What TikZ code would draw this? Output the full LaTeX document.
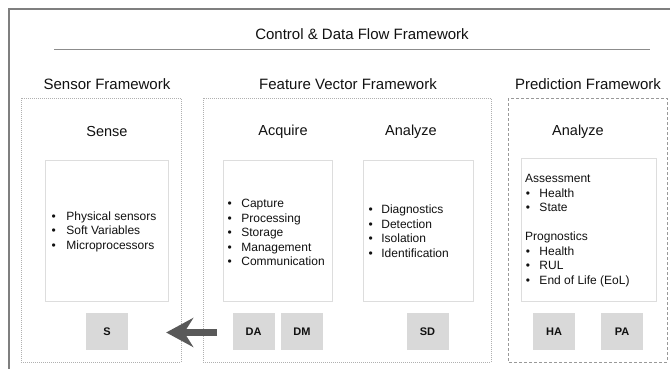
\documentclass[tikz,border=0pt]{standalone}
\usepackage{fontspec}
\setmainfont{Liberation Sans}
\usetikzlibrary{arrows.meta}
\definecolor{framegray}{HTML}{7F7F7F}
\definecolor{dotgray}{HTML}{B0B0B0}
\definecolor{dashgray}{HTML}{999999}
\definecolor{innergray}{HTML}{DDDDDD}
\definecolor{tagfill}{HTML}{D9D9D9}
\definecolor{arrowgray}{HTML}{595959}
\definecolor{txt}{HTML}{111111}
\begin{document}
\begin{tikzpicture}[x=1pt,y=-1pt,
  every node/.style={text=txt},
  fwtitle/.style={font=\fontsize{15}{18}\selectfont},
  sublabel/.style={font=\fontsize{14.5}{17}\selectfont},
  fwbox/.style={draw=dotgray,line width=0.8pt,dash pattern=on 1pt off 1pt},
  predbox/.style={draw=dashgray,line width=0.8pt,dash pattern=on 3pt off 2pt},
  innerbox/.style={draw=innergray,line width=0.8pt},
  tag/.style={fill=tagfill,minimum width=42pt,minimum height=37pt,inner sep=0pt,font=\fontsize{11}{13}\selectfont\bfseries},
  listtext/.style={inner sep=0pt,anchor=west,font=\fontsize{12}{14.5}\selectfont},
  bigarrow/.style={draw=arrowgray,line width=7pt,-{Stealth[length=27pt,width=29pt,inset=9pt,fill=arrowgray]}}
]
\useasboundingbox (0,0) rectangle (670,368);
\fill[white] (0,0) rectangle (670,368);
% outer frame
\draw[framegray,line width=1.3pt] (9,369) -- (9,9) -- (671,9);
% title
\node[fwtitle] (title) at (362,34) {Control \& Data Flow Framework};
\draw[black!45,line width=0.5pt,dash pattern=on 0.5pt off 0.5pt] (54,49) -- (650,49);
% framework titles
\node[fwtitle] (tsensor) at (107,84) {Sensor Framework};
\node[fwtitle] (tfeature) at (348,84) {Feature Vector Framework};
\node[fwtitle] (tpred) at (588,84) {Prediction Framework};
% framework boxes
\draw[fwbox] (21,98) rectangle (181,362);
\draw[fwbox] (203,98) rectangle (491,362);
\draw[predbox] (508,98) rectangle (667,362);
% sub labels
\node[sublabel] (lsense) at (107,132) {Sense};
\node[sublabel] (lacq) at (283,132) {Acquire};
\node[sublabel] (lana) at (411,132) {Analyze};
\node[sublabel] (lanp) at (578,132) {Analyze};
% inner boxes
\draw[innerbox] (45,160) rectangle (168,301);
\draw[innerbox] (223,160) rectangle (332,301);
\draw[innerbox] (363,160) rectangle (473,301);
\draw[innerbox] (521,158) rectangle (656,301);
% lists
\node[listtext] (lst1) at (51.5,232) {\begin{tabular}{@{}l@{\hspace{10.5pt}}l@{}}
\textbullet & Physical sensors\\ \textbullet & Soft Variables\\ \textbullet & Microprocessors\end{tabular}};
\node[listtext] (lst2) at (227.5,234) {\begin{tabular}{@{}l@{\hspace{9.5pt}}l@{}}
\textbullet & Capture\\ \textbullet & Processing\\ \textbullet & Storage\\ \textbullet & Management\\ \textbullet & Communication\end{tabular}};
\node[listtext] (lst3) at (368.5,232.5) {\begin{tabular}{@{}l@{\hspace{8.5pt}}l@{}}
\textbullet & Diagnostics\\ \textbullet & Detection\\ \textbullet & Isolation\\ \textbullet & Identification\end{tabular}};
\node[listtext] (lst4) at (525,230.5) {\begin{tabular}{@{}l@{\hspace{9.5pt}}l@{}}
\multicolumn{2}{@{}l@{}}{Assessment}\\ \hspace{0.6pt}\textbullet & Health\\ \hspace{0.6pt}\textbullet & State\\[14.5pt]
\multicolumn{2}{@{}l@{}}{Prognostics}\\ \hspace{0.6pt}\textbullet & Health\\ \hspace{0.6pt}\textbullet & RUL\\ \hspace{0.6pt}\textbullet & End of Life (EoL)\end{tabular}};
% tags
\node[tag] (S) at (107,331.5) {S};
\node[tag] (DA) at (253.5,331.5) {DA};
\node[tag] (DM) at (302,331.5) {DM};
\node[tag] (SD) at (427.5,331.5) {SD};
\node[tag] (HA) at (554,331.5) {HA};
\node[tag] (PA) at (622,331.5) {PA};
% arrow
\coordinate (atail) at (217,332.5);
\draw[bigarrow,shorten >=38pt] (atail) -- (S.east |- atail);
\end{tikzpicture}
\end{document}
